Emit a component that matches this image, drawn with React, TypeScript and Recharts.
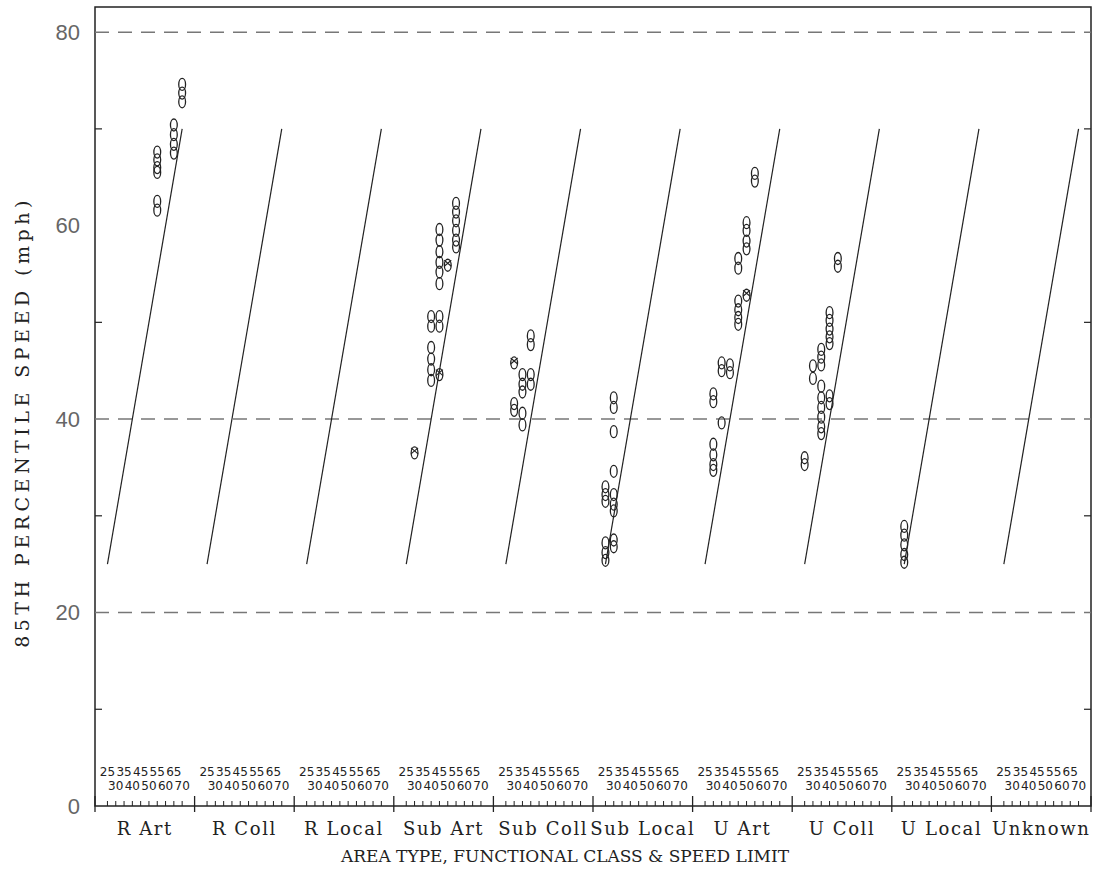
import { ComposedChart, Scatter, XAxis, YAxis, ReferenceLine, ReferenceArea } from "recharts";

const groups = ["R Art", "R Coll", "R Local", "Sub Art", "Sub Coll", "Sub Local", "U Art", "U Coll", "U Local", "Unknown"];
const speedLimits = [25, 30, 35, 40, 45, 50, 55, 60, 65, 70];
const yTicks = [0, 10, 20, 30, 40, 50, 60, 70, 80];
const dashedLevels = [20, 40, 80];

// [speed limit, 85th percentile speed] per area type / class
const rArt = [
  [55, 67.6], [55, 66.8], [55, 66.0], [55, 65.5], [55, 62.5], [55, 61.6],
  [65, 70.4], [65, 69.4], [65, 68.4], [65, 67.5],
  [70, 74.6], [70, 73.7], [70, 72.8],
];
const rColl: number[][] = [];
const rLocal: number[][] = [];
const subArt = [
  [40, 50.6], [40, 49.6], [40, 47.4], [40, 46.2], [40, 45.1], [40, 44.0],
  [45, 59.6], [45, 58.5], [45, 57.3], [45, 56.2], [45, 55.2], [45, 54.0], [45, 50.6], [45, 49.6],
  [55, 62.3], [55, 61.4], [55, 60.5], [55, 59.5], [55, 58.5], [55, 57.8],
];
const subColl = [
  [30, 41.6], [30, 40.9],
  [35, 44.6], [35, 43.6], [35, 42.8], [35, 40.6], [35, 39.4],
  [40, 48.6], [40, 47.7], [40, 44.6], [40, 43.6],
];
const subLocal = [
  [25, 33.0], [25, 32.2], [25, 31.5], [25, 27.2], [25, 26.2], [25, 25.4],
  [30, 42.2], [30, 41.2], [30, 38.7], [30, 34.6], [30, 32.2], [30, 31.2], [30, 30.5], [30, 27.5], [30, 26.8],
];
const uArt = [
  [30, 42.6], [30, 41.8], [30, 37.4], [30, 36.3], [30, 35.3], [30, 34.7],
  [35, 45.8], [35, 45.0], [35, 39.6],
  [40, 45.6], [40, 44.8],
  [45, 56.6], [45, 55.6], [45, 52.2], [45, 51.3], [45, 50.5], [45, 49.8],
  [50, 60.3], [50, 59.5], [50, 58.4], [50, 57.6],
  [55, 65.4], [55, 64.6],
];
const uColl = [
  [25, 36.0], [25, 35.3],
  [30, 45.5], [30, 44.2],
  [35, 47.2], [35, 46.4], [35, 45.6], [35, 43.4], [35, 42.2], [35, 41.2], [35, 40.2], [35, 39.2], [35, 38.5],
  [40, 51.0], [40, 50.2], [40, 49.3], [40, 48.5], [40, 47.8], [40, 42.4], [40, 41.6],
  [45, 56.6], [45, 55.8],
];
const uLocal = [[25, 28.9], [25, 28.0], [25, 27.0], [25, 26.0], [25, 25.2]];
const unknown: number[][] = [];

// points drawn with an x through the oval: [group index, speed limit, value]
const crossed = [
  [3, 30, 36.5], [3, 45, 44.6], [3, 50, 55.9],
  [4, 30, 45.8],
  [6, 50, 52.8],
];

const groupPoints = [rArt, rColl, rLocal, subArt, subColl, subLocal, uArt, uColl, uLocal, unknown];

const GROUP_W = 12;
const slot = (g: number, speed: number) => g * GROUP_W + 1.5 + speedLimits.indexOf(speed);

const ovalData = groupPoints.flatMap((pts, g) => pts.map(([s, v]) => ({ x: slot(g, s), y: v })));
const crossedData = crossed.map(([g, s, v]) => ({ x: slot(g, s), y: v }));

const xTicks = [
  ...groups.map((_, g) => g * GROUP_W),
  groups.length * GROUP_W,
  ...groups.map((_, g) => g * GROUP_W + 6),
  ...groups.flatMap((_, g) => speedLimits.map((s) => slot(g, s))),
].sort((a, b) => a - b);

const PLOT_LEFT = 95;
const PLOT_RIGHT = 1091;
const AXIS_Y = 806;
const INK = "#222";

function XTick(props: any) {
  const { x, payload } = props;
  const v = payload.value as number;
  const k = v % GROUP_W;
  if (Math.abs(k) < 0.01) {
    return <line x1={x} x2={x} y1={AXIS_Y - 10} y2={AXIS_Y + 6} stroke={INK} strokeWidth={1.3} />;
  }
  if (Math.abs(k - 6) < 0.01) {
    const g = Math.round((v - 6) / GROUP_W);
    return (
      <text x={x} y={AXIS_Y + 29} textAnchor="middle" fontFamily="DejaVu Serif" fontSize={18} letterSpacing={1.6} fill={INK}>
        {groups[g]}
      </text>
    );
  }
  const i = Math.round(k - 1.5);
  return (
    <g>
      <line x1={x} x2={x} y1={AXIS_Y - 5} y2={AXIS_Y} stroke={INK} strokeWidth={1} />
      <text x={x} y={i % 2 === 0 ? AXIS_Y - 30 : AXIS_Y - 16} textAnchor="middle" fontFamily="DejaVu Sans" fontSize={12} fill={INK}>
        {speedLimits[i]}
      </text>
    </g>
  );
}

function YTick(props: any) {
  const { y, payload } = props;
  const v = payload.value as number;
  if (v % 20 === 0) {
    return (
      <text x={80} y={y} textAnchor="end" dominantBaseline="central" fontFamily="Liberation Sans" fontSize={22} fill="#666">
        {v}
      </text>
    );
  }
  return (
    <g>
      <line x1={PLOT_LEFT} x2={PLOT_LEFT + 7} y1={y} y2={y} stroke={INK} strokeWidth={1.2} />
      <line x1={PLOT_RIGHT - 7} x2={PLOT_RIGHT} y1={y} y2={y} stroke={INK} strokeWidth={1.2} />
    </g>
  );
}

function Oval(p: any) {
  return <ellipse cx={p.cx} cy={p.cy} rx={3.4} ry={6} fill="none" stroke={INK} strokeWidth={1.3} />;
}

function CrossedOval(p: any) {
  const { cx, cy } = p;
  return (
    <g>
      <ellipse cx={cx} cy={cy} rx={3.4} ry={6} fill="none" stroke={INK} strokeWidth={1.3} />
      <path d={`M${cx - 3.5},${cy - 5}L${cx + 3.5},${cy + 1}M${cx + 3.5},${cy - 5}L${cx - 3.5},${cy + 1}`} stroke={INK} strokeWidth={1.1} />
    </g>
  );
}

export default function App() {
  return (
    <div style={{ position: "absolute", left: 0, top: 0, width: 1095, height: 878, background: "#fff" }}>
      <ComposedChart width={1095} height={878} margin={{ top: 7, right: 4, left: 0, bottom: 0 }}>
        <XAxis
          type="number"
          dataKey="x"
          domain={[0, groups.length * GROUP_W]}
          ticks={xTicks}
          interval={0}
          height={72}
          axisLine={false}
          tickLine={false}
          tick={<XTick />}
          label={{
            content: () => (
              <text x={565} y={862} textAnchor="middle" fontFamily="DejaVu Serif" fontSize={17} fill={INK}>
                AREA TYPE, FUNCTIONAL CLASS &amp; SPEED LIMIT
              </text>
            ),
          }}
        />
        <YAxis
          type="number"
          dataKey="y"
          domain={[0, 82.6]}
          ticks={yTicks}
          interval={0}
          width={95}
          allowDataOverflow
          axisLine={false}
          tickLine={false}
          tick={<YTick />}
          label={{
            content: () => (
              <text
                x={22}
                y={422}
                transform="rotate(-90 22 422)"
                textAnchor="middle"
                dominantBaseline="central"
                fontFamily="DejaVu Serif"
                fontSize={19}
                letterSpacing={4.5}
                fill={INK}
              >
                85TH PERCENTILE SPEED (mph)
              </text>
            ),
          }}
        />
        <ReferenceArea x1={0} x2={groups.length * GROUP_W} y1={0} y2={82.6} fill="none" stroke={INK} strokeWidth={1.5} />
        {dashedLevels.map((v) => (
          <ReferenceLine key={v} y={v} stroke="#777" strokeWidth={1.5} strokeDasharray="14 9" />
        ))}
        {groups.map((g, i) => (
          <ReferenceLine
            key={g}
            segment={[
              { x: slot(i, speedLimits[0]), y: speedLimits[0] },
              { x: slot(i, speedLimits[speedLimits.length - 1]), y: speedLimits[speedLimits.length - 1] },
            ]}
            stroke={INK}
            strokeWidth={1.2}
          />
        ))}
        <Scatter data={ovalData} shape={<Oval />} isAnimationActive={false} />
        <Scatter data={crossedData} shape={<CrossedOval />} isAnimationActive={false} />
      </ComposedChart>
    </div>
  );
}
